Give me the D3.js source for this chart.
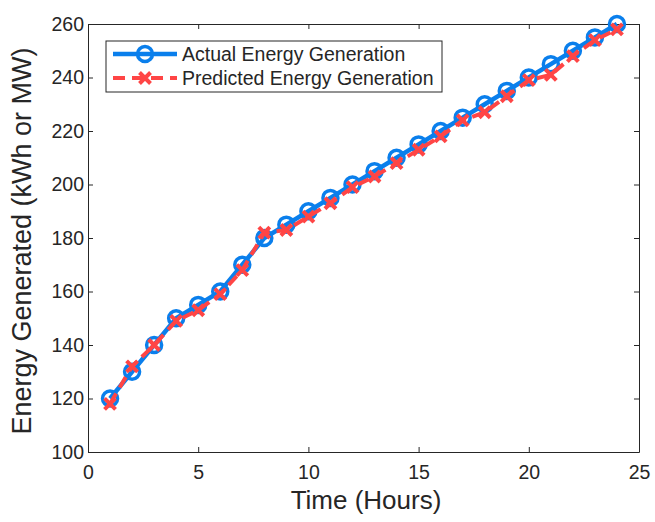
<html>
<head>
  <meta charset="utf-8">
  <title>Energy Generation</title>
  <script src="https://cdn.jsdelivr.net/npm/d3@7"></script>
  <style>
    body { margin: 0; background: #fff; }
    text { font-family: "Liberation Sans", Arial, sans-serif; fill: #262626; }
  </style>
</head>
<body>
  <svg id="chart" width="655" height="522"></svg>
  <script>
    // chart data
    var hours = [1, 2, 3, 4, 5, 6, 7, 8, 9, 10, 11, 12, 13, 14, 15, 16, 17, 18, 19, 20, 21, 22, 23, 24];
    var actual = [120, 130, 140, 150, 155, 160, 170, 180, 185, 190, 195, 200, 205, 210, 215, 220, 225, 230, 235, 240, 245, 250, 255, 260];
    var predicted = [118, 132, 140, 149, 153, 159, 168, 182, 183, 188, 193, 199, 203, 208, 213, 218, 224, 227, 233, 239, 241, 248, 254, 258];
    var xTicks = [0, 5, 10, 15, 20, 25];
    var yTicks = [100, 120, 140, 160, 180, 200, 220, 240, 260];
    var seriesNames = ["Actual Energy Generation", "Predicted Energy Generation"];

    var margin = { top: 24, right: 16, bottom: 70, left: 88 },
      width = 655 - margin.left - margin.right,
      height = 522 - margin.top - margin.bottom;

    var blue = "#0a7fec", red = "#ff4545", axisCol = "#262626";

    var svg = d3.select("#chart");
    var chart = svg.append("g")
      .attr("transform", "translate(" + margin.left + "," + margin.top + ")");

    var xScale = d3.scaleLinear().domain([0, 25]).range([0, width]);
    var yScale = d3.scaleLinear().domain([100, 260]).range([height, 0]);

    // axes (matlab style: ticks inside, box all round)
    var styleAxis = function (g) {
      g.select(".domain").attr("stroke", axisCol);
      g.selectAll(".tick line").attr("stroke", axisCol);
      g.selectAll(".tick text").style("font-size", "19.5px").attr("fill", axisCol);
    };

    chart.append("g")
      .attr("transform", "translate(0," + height + ")")
      .call(d3.axisBottom(xScale).tickValues(xTicks).tickSizeInner(-5).tickSizeOuter(0).tickPadding(13))
      .call(styleAxis);
    chart.append("g")
      .call(d3.axisLeft(yScale).tickValues(yTicks).tickSizeInner(-5).tickSizeOuter(0).tickPadding(4))
      .call(styleAxis);
    chart.append("g")
      .call(d3.axisTop(xScale).tickValues(xTicks).tickSizeInner(-5).tickSizeOuter(0).tickFormat(""))
      .call(styleAxis);
    chart.append("g")
      .attr("transform", "translate(" + width + ",0)")
      .call(d3.axisRight(yScale).tickValues(yTicks).tickSizeInner(-5).tickSizeOuter(0).tickFormat(""))
      .call(styleAxis);

    var actualData = hours.map(function (h, i) { return { x: h, y: actual[i] }; });
    var predData = hours.map(function (h, i) { return { x: h, y: predicted[i] }; });

    var line = d3.line()
      .x(function (d) { return xScale(d.x); })
      .y(function (d) { return yScale(d.y); });

    // actual series
    chart.append("path")
      .datum(actualData)
      .attr("fill", "none")
      .attr("stroke", blue)
      .attr("stroke-width", 4.5)
      .attr("d", line);

    chart.selectAll(".circ")
      .data(actualData)
      .enter()
      .append("circle")
      .attr("class", "circ")
      .attr("cx", function (d) { return xScale(d.x); })
      .attr("cy", function (d) { return yScale(d.y); })
      .attr("r", 7.5)
      .attr("fill", "none")
      .attr("stroke", blue)
      .attr("stroke-width", 3.5);

    // predicted series
    chart.append("path")
      .datum(predData)
      .attr("fill", "none")
      .attr("stroke", red)
      .attr("stroke-width", 4)
      .attr("stroke-dasharray", "12,7")
      .attr("d", line);

    var cross = function (sel, s) {
      sel.append("path")
        .attr("d", "M" + -s + "," + -s + "L" + s + "," + s + "M" + -s + "," + s + "L" + s + "," + -s)
        .attr("stroke", red)
        .attr("stroke-width", 4)
        .attr("fill", "none");
    };

    chart.selectAll(".cross")
      .data(predData)
      .enter()
      .append("g")
      .attr("class", "cross")
      .attr("transform", function (d) { return "translate(" + xScale(d.x) + "," + yScale(d.y) + ")"; })
      .call(cross, 5.5);

    // axis labels
    svg.append("text")
      .attr("x", 366)
      .attr("y", 509)
      .attr("text-anchor", "middle")
      .style("font-size", "26px")
      .text("Time (Hours)");

    svg.append("text")
      .attr("transform", "translate(31,241) rotate(-90)")
      .attr("text-anchor", "middle")
      .style("font-size", "27px")
      .text("Energy Generated (kWh or MW)");

    // legend
    var legend = svg.append("g").attr("transform", "translate(106,41)");
    legend.append("rect")
      .attr("width", 336)
      .attr("height", 51)
      .attr("fill", "#fff")
      .attr("stroke", axisCol)
      .attr("stroke-width", 1);

    var row1 = legend.append("g").attr("transform", "translate(0,13)");
    row1.append("line").attr("x1", 7).attr("x2", 71).attr("stroke", blue).attr("stroke-width", 4.5);
    row1.append("circle").attr("cx", 39).attr("r", 7.5).attr("fill", "none").attr("stroke", blue).attr("stroke-width", 3.5);
    row1.append("text").attr("x", 76).attr("y", 7).style("font-size", "19.5px").text(seriesNames[0]);

    var row2 = legend.append("g").attr("transform", "translate(0,37)");
    row2.append("line").attr("x1", 7).attr("x2", 71).attr("stroke", red).attr("stroke-width", 4).attr("stroke-dasharray", "12,7");
    row2.append("g").attr("transform", "translate(39,0)").call(cross, 5.5);
    row2.append("text").attr("x", 76).attr("y", 7).style("font-size", "19.5px").text(seriesNames[1]);
  </script>
</body>
</html>
